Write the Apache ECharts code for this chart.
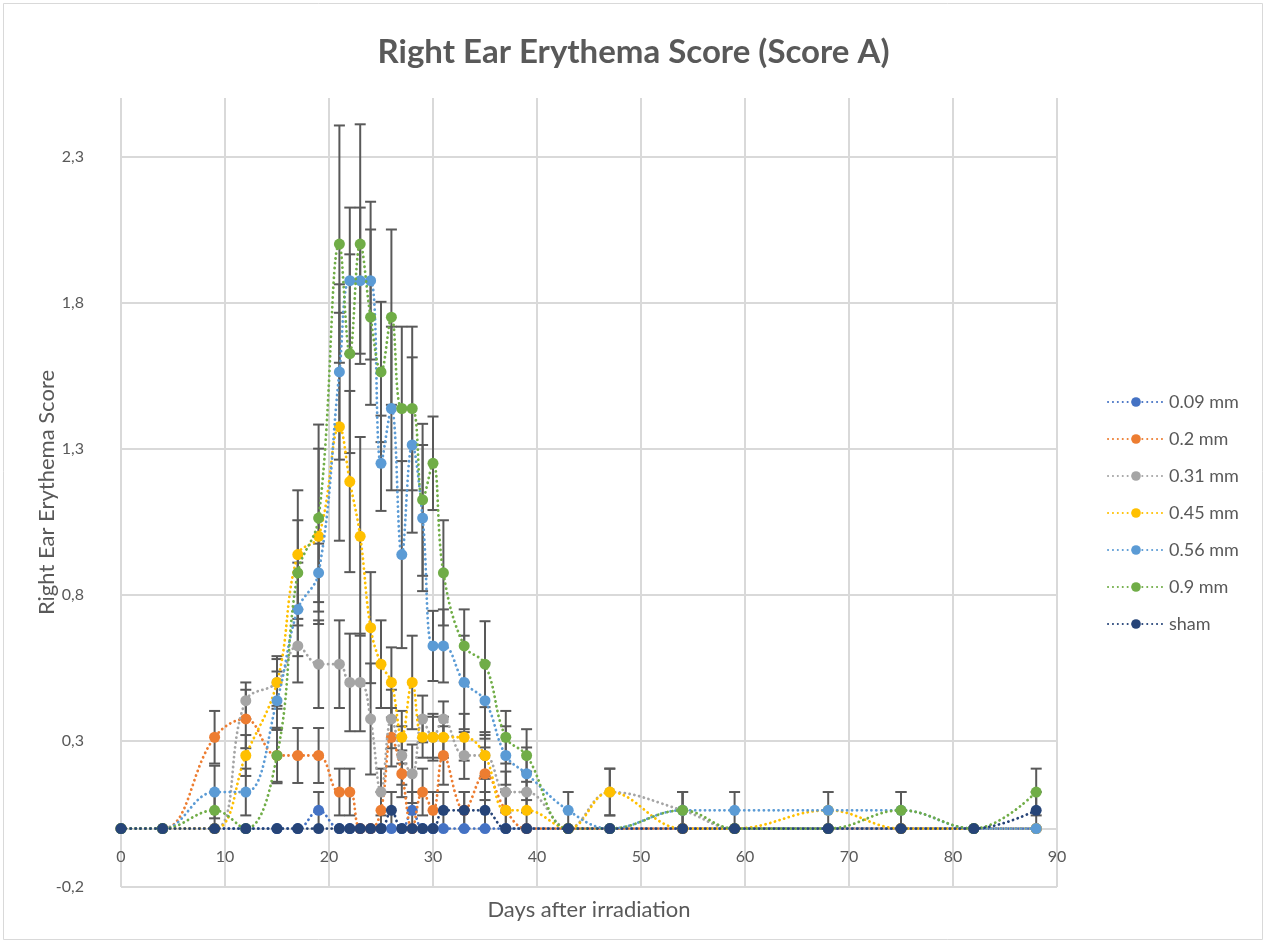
<!DOCTYPE html>
<html>
<head>
<meta charset="utf-8">
<title>Right Ear Erythema Score (Score A)</title>
<script src="https://cdn.jsdelivr.net/npm/echarts@6/dist/echarts.min.js"></script>
<style>
  html, body { margin: 0; padding: 0; background: #ffffff; }
  #chart { width: 1267px; height: 944px; }
</style>
</head>
<body>
<div id="chart"></div>
<script>
// Days after irradiation at which the ears were scored
const days = [0, 4, 9, 12, 15, 17, 19, 21, 22, 23, 24, 25, 26, 27, 28, 29, 30, 31, 33, 35, 37, 39, 43, 47, 54, 59, 68, 75, 82, 88];

// Mean erythema score per group (same order as days)
const mm009 = [0, 0, 0, 0, 0, 0, 0.0625, 0, 0, 0, 0, 0, 0, 0, 0.0625, 0, 0, 0, 0, 0, 0, 0, 0, 0, 0, 0, 0, 0, 0, 0];
const mm02  = [0, 0, 0.3125, 0.375, 0.25, 0.25, 0.25, 0.125, 0.125, 0, 0, 0.0625, 0.3125, 0.1875, 0, 0.125, 0.0625, 0.25, 0.0625, 0.1875, 0.0625, 0, 0, 0, 0, 0, 0, 0, 0, 0];
const mm031 = [0, 0, 0, 0.4375, 0.5, 0.625, 0.5625, 0.5625, 0.5, 0.5, 0.375, 0.125, 0.375, 0.25, 0.1875, 0.375, 0.3125, 0.375, 0.25, 0.25, 0.125, 0.125, 0, 0.125, 0.0625, 0, 0, 0, 0, 0];
const mm045 = [0, 0, 0, 0.25, 0.5, 0.9375, 1.0, 1.375, 1.1875, 1.0, 0.6875, 0.5625, 0.5, 0.3125, 0.5, 0.3125, 0.3125, 0.3125, 0.3125, 0.25, 0.0625, 0.0625, 0, 0.125, 0, 0, 0.0625, 0, 0, 0];
const mm056 = [0, 0, 0.125, 0.125, 0.4375, 0.75, 0.875, 1.5625, 1.875, 1.875, 1.875, 1.25, 1.4375, 0.9375, 1.3125, 1.0625, 0.625, 0.625, 0.5, 0.4375, 0.25, 0.1875, 0.0625, 0, 0.0625, 0.0625, 0.0625, 0.0625, 0, 0];
const mm09  = [0, 0, 0.0625, 0, 0.25, 0.875, 1.0625, 2.0, 1.625, 2.0, 1.75, 1.5625, 1.75, 1.4375, 1.4375, 1.125, 1.25, 0.875, 0.625, 0.5625, 0.3125, 0.25, 0, 0, 0.0625, 0, 0, 0.0625, 0, 0.125];
const sham  = [0, 0, 0, 0, 0, 0, 0, 0, 0, 0, 0, 0, 0.0625, 0, 0, 0, 0, 0.0625, 0.0625, 0.0625, 0, 0, 0, 0, 0, 0, 0, 0, 0, 0.0625];

// Standard error of each mean (same order as days)
const se009 = [0, 0, 0, 0, 0, 0, 0.0625, 0, 0, 0, 0, 0, 0, 0, 0.0625, 0, 0, 0, 0, 0, 0, 0, 0, 0, 0, 0, 0, 0, 0, 0];
const se02  = [0, 0, 0.09, 0.1, 0.09, 0.094, 0.094, 0.08, 0.08, 0, 0, 0.0625, 0.1, 0.08, 0, 0.08, 0.0625, 0.1, 0.0625, 0.09, 0.0625, 0, 0, 0, 0, 0, 0, 0, 0, 0];
const se031 = [0, 0, 0, 0.0625, 0.08, 0.125, 0.15, 0.15, 0.167, 0.167, 0.19, 0.08, 0.1, 0.1, 0.1, 0.08, 0.08, 0.06, 0.08, 0.08, 0.07, 0.07, 0, 0.08, 0.0625, 0, 0, 0, 0, 0];
const se045 = [0, 0, 0, 0.07, 0.09, 0.22, 0.3, 0.39, 0.31, 0.34, 0.19, 0.15, 0.12, 0.09, 0.16, 0.07, 0.07, 0.07, 0.08, 0.07, 0.0625, 0.0625, 0, 0.08, 0, 0, 0, 0, 0, 0];
const se056 = [0, 0, 0.09, 0.08, 0.1, 0.16, 0.1, 0.3, 0.25, 0.25, 0.27, 0.163, 0.28, 0.32, 0.3, 0.25, 0.12, 0.125, 0.16, 0.13, 0.1, 0.09, 0.0625, 0, 0.0625, 0.0625, 0.0625, 0.0625, 0, 0];
const se09  = [0, 0, 0.0625, 0, 0.095, 0.18, 0.32, 0.406, 0.34, 0.41, 0.3, 0.24, 0.3, 0.28, 0.28, 0.26, 0.16, 0.18, 0.125, 0.147, 0.09, 0.09, 0, 0, 0.0625, 0, 0, 0.0625, 0, 0.08];
const seSham = [0, 0, 0, 0, 0, 0, 0, 0, 0, 0, 0, 0, 0.0625, 0, 0, 0, 0, 0.0625, 0.0625, 0.0625, 0, 0, 0, 0, 0, 0, 0, 0, 0, 0.0625];

const groupNames = ['0.09 mm', '0.2 mm', '0.31 mm', '0.45 mm', '0.56 mm', '0.9 mm', 'sham'];
const groupColors = ['#4472C4', '#ED7D31', '#A5A5A5', '#FFC000', '#5B9BD5', '#70AD47', '#264478'];
const groupMeans = [mm009, mm02, mm031, mm045, mm056, mm09, sham];
const groupErrors = [se009, se02, se031, se045, se056, se09, seSham];

const FONT = 'Lato, "Open Sans", sans-serif';
const TEXT = '#595959';
const GRID = '#d9d9d9';

// Plot area and value range of the score axis
const PLOT = { left: 121, right: 210, top: 98, bottom: 57 };
const Y_MIN = -0.2, Y_MAX = 2.5;
// The day axis sits on score 0, so lift it from the bottom edge by that distance
const plotHeight = 944 - PLOT.top - PLOT.bottom;
const zeroLift = (0 - Y_MIN) / (Y_MAX - Y_MIN) * plotHeight;

// Vertical error bar with caps, drawn in data coordinates
function renderErrorBar(params, api) {
  const x = api.value(0);
  const lo = api.coord([x, api.value(1)]);
  const hi = api.coord([x, api.value(2)]);
  const half = 5.5;
  const style = { stroke: '#595959', lineWidth: 2 };
  return {
    type: 'group',
    children: [
      { type: 'line', shape: { x1: lo[0], y1: lo[1], x2: hi[0], y2: hi[1] }, style },
      { type: 'line', shape: { x1: hi[0] - half, y1: hi[1], x2: hi[0] + half, y2: hi[1] }, style },
      { type: 'line', shape: { x1: lo[0] - half, y1: lo[1], x2: lo[0] + half, y2: lo[1] }, style }
    ]
  };
}

const series = [];
groupNames.forEach((name, g) => {
  const bars = [];
  days.forEach((d, i) => {
    const e = groupErrors[g][i];
    if (e > 0) bars.push([d, groupMeans[g][i] - e, groupMeans[g][i] + e]);
  });
  series.push({
    name: name + ' error',
    type: 'custom',
    renderItem: renderErrorBar,
    data: bars,
    encode: { x: 0, y: [1, 2] },
    z: 1,
    silent: true
  });
});
groupNames.forEach((name, g) => {
  series.push({
    name: name,
    type: 'line',
    data: days.map((d, i) => [d, groupMeans[g][i]]),
    smooth: 0.4,
    symbol: 'circle',
    symbolSize: 11,
    showAllSymbol: true,
    z: 2 + g,
    itemStyle: { color: groupColors[g] },
    lineStyle: { color: groupColors[g], width: 2.8, type: [0.1, 4.8], cap: 'round' },
    emphasis: { disabled: true }
  });
});

const chart = echarts.init(document.getElementById('chart'), null, { renderer: 'canvas' });
chart.setOption({
  animation: false,
  backgroundColor: '#ffffff',
  textStyle: { fontFamily: FONT },
  title: {
    text: 'Right Ear Erythema Score (Score A)',
    left: 'center',
    top: 31,
    textStyle: { fontFamily: FONT, fontSize: 33, fontWeight: 'bold', color: TEXT }
  },
  graphic: [{
    type: 'rect',
    shape: { x: 3.5, y: 3.5, width: 1259, height: 936 },
    style: { fill: 'none', stroke: GRID, lineWidth: 1 },
    silent: true
  }],
  legend: {
    data: groupNames,
    orient: 'vertical',
    left: 1102,
    top: 388,
    itemWidth: 56,
    itemHeight: 12,
    itemGap: 19,
    textStyle: { fontFamily: FONT, fontSize: 18, color: TEXT, lineHeight: 18 },
    selectedMode: false
  },
  grid: {
    left: PLOT.left, right: PLOT.right, top: PLOT.top, bottom: PLOT.bottom,
    containLabel: false, outerBoundsMode: 'none'
  },
  xAxis: {
    type: 'value',
    min: 0,
    max: 90,
    interval: 10,
    offset: -zeroLift,
    name: 'Days after irradiation',
    nameLocation: 'middle',
    nameGap: 70,
    nameMoveOverlap: false,
    nameTextStyle: { fontFamily: FONT, fontSize: 22, color: TEXT },
    axisLine: { show: true, onZero: false, lineStyle: { color: GRID, width: 2 } },
    axisTick: { show: false },
    axisLabel: { fontFamily: FONT, fontSize: 16, color: TEXT, margin: 20 },
    splitLine: { show: true, lineStyle: { color: GRID, width: 2 } }
  },
  yAxis: {
    type: 'value',
    min: Y_MIN,
    max: Y_MAX,
    interval: 0.5,
    name: 'Right Ear Erythema Score',
    nameLocation: 'middle',
    nameGap: 63,
    nameMoveOverlap: false,
    nameTextStyle: { fontFamily: FONT, fontSize: 22, color: TEXT },
    axisLine: { show: false },
    axisTick: { show: false },
    axisLabel: {
      fontFamily: FONT, fontSize: 16, color: TEXT, margin: 37,
      showMaxLabel: false,
      formatter: v => v.toFixed(1).replace('.', ',')
    },
    splitLine: { show: true, showMaxLine: false, lineStyle: { color: GRID, width: 2 } }
  },
  series: series
});
</script>
</body>
</html>
